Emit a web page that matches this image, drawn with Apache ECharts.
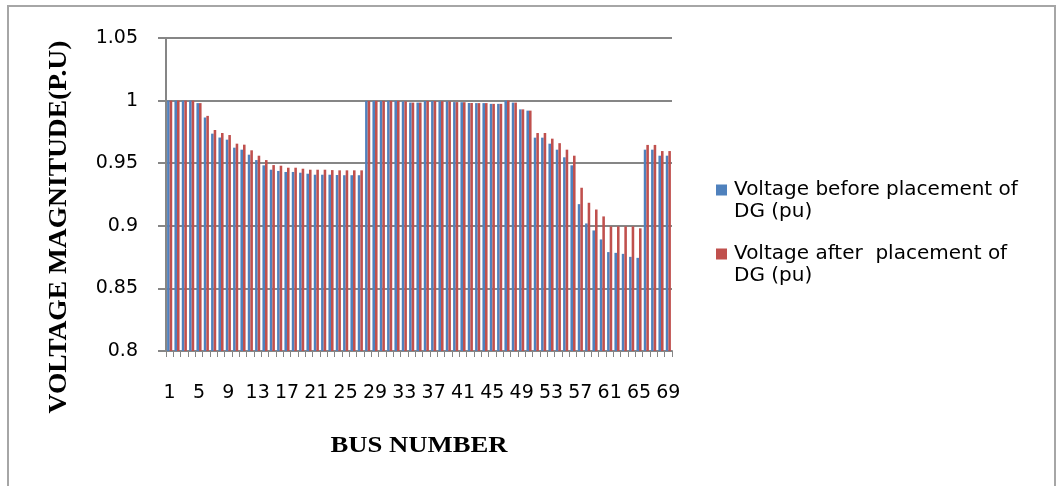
<!DOCTYPE html>
<html>
<head>
<meta charset="utf-8">
<script src="https://cdn.jsdelivr.net/npm/echarts@6/dist/echarts.min.js"></script>
<style>
  html, body { margin: 0; padding: 0; background: #fff; }
  #chart { width: 1063px; height: 486px; }
</style>
</head>
<body>
<div id="chart"></div>
<script>
// bus numbers 1..69
const buses = [];
for (let i = 1; i <= 69; i++) buses.push(String(i));

const beforeDG = [
  1.000, 1.000, 1.000, 1.000, 0.998, 0.9865, 0.9736, 0.9705, 0.9688, 0.9624,
  0.9608, 0.9568, 0.9525, 0.9483, 0.9448, 0.9438, 0.9430, 0.9430, 0.9424, 0.9416,
  0.9408, 0.9408, 0.9408, 0.9406, 0.9404, 0.9404, 0.9404,
  0.9998, 0.9998, 0.9998, 0.9998, 0.9998, 0.9994, 0.9984, 0.9984, 0.9997,
  0.9997, 0.9995, 0.9994, 0.9988, 0.9987, 0.9981, 0.9980, 0.9980, 0.9974, 0.9974,
  1.000, 0.9984, 0.9930, 0.9920, 0.9704, 0.9704, 0.9656, 0.9608, 0.9547, 0.9483,
  0.9173, 0.9019, 0.8963, 0.8891, 0.8790, 0.8784, 0.8776, 0.8752, 0.8744,
  0.9608, 0.9608, 0.9560, 0.9560
];

const afterDG = [
  1.000, 1.000, 1.000, 1.000, 0.998, 0.9878, 0.9765, 0.9741, 0.9725, 0.9656,
  0.9648, 0.9603, 0.9560, 0.9525, 0.9485, 0.9480, 0.9464, 0.9464, 0.9456, 0.9448,
  0.9448, 0.9448, 0.9445, 0.9443, 0.9443, 0.9443, 0.9443,
  0.9998, 0.9998, 0.9998, 0.9998, 0.9998, 0.9994, 0.9984, 0.9984, 0.9997,
  0.9997, 0.9995, 0.9994, 0.9988, 0.9987, 0.9981, 0.9980, 0.9980, 0.9974, 0.9974,
  1.000, 0.9984, 0.9930, 0.9920, 0.9741, 0.9741, 0.9696, 0.9660, 0.9608, 0.9560,
  0.9304, 0.9184, 0.9130, 0.9075, 0.8995, 0.8995, 0.8995, 0.8995, 0.8980,
  0.9646, 0.9646, 0.9597, 0.9597
];

const seriesNames = [
  'Voltage before placement of DG (pu)',
  'Voltage after  placement of DG (pu)'
];

const yTitle = 'VOLTAGE MAGNITUDE(P.U)';
const xTitle = 'BUS NUMBER';

// square sits next to the first text line, like the office legend
const legendIcon = 'path://M0,0L0.01,0L0,0.01Z M13,44L12.99,44L13,43.99Z M0,5.5L11,5.5L11,16.5L0,16.5Z';

const chart = echarts.init(document.getElementById('chart'));

const option = {
  animation: false,
  backgroundColor: '#fff',
  graphic: [
    {
      type: 'rect',
      shape: { x: 8, y: 6, width: 1047, height: 500 },
      style: { fill: 'none', stroke: '#a6a6a6', lineWidth: 2 },
      silent: true
    },
    {
      type: 'text',
      x: 60, y: 227,
      rotation: Math.PI / 2,
      scaleX: 1.1,
      style: { text: yTitle, font: 'bold 25px "Liberation Serif"', fill: '#000', align: 'center', verticalAlign: 'middle' },
      silent: true
    },
    {
      type: 'text',
      x: 419, y: 446,
      scaleX: 1.16,
      style: { text: xTitle, font: 'bold 23px "Liberation Serif"', fill: '#000', align: 'center', verticalAlign: 'middle' },
      silent: true
    }
  ],
  legend: {
    orient: 'vertical',
    left: 711,
    top: 174,
    itemWidth: 13,
    itemHeight: 44,
    itemGap: 20,
    icon: legendIcon,
    data: seriesNames,
    formatter: name => name.replace(' DG', '\nDG'),
    textStyle: {
      fontFamily: 'DejaVu Sans',
      fontSize: 20,
      color: '#000',
      lineHeight: 22
    }
  },
  grid: {
    left: 166,
    right: 391,
    top: 38,
    bottom: 135
  },
  xAxis: {
    type: 'category',
    data: buses,
    axisLine: { lineStyle: { color: '#868686', width: 2 } },
    axisTick: { show: true, interval: 0, length: 6, lineStyle: { color: '#868686' } },
    axisLabel: {
      interval: 3,
      margin: 33,
      fontFamily: 'DejaVu Sans',
      fontSize: 19,
      color: '#000'
    }
  },
  yAxis: {
    type: 'value',
    min: 0.8,
    max: 1.05,
    interval: 0.05,
    axisLine: { show: true, lineStyle: { color: '#868686', width: 2 } },
    axisTick: { show: true, length: 8, lineStyle: { color: '#868686', width: 2 } },
    axisLabel: {
      margin: 28,
      fontFamily: 'DejaVu Sans',
      fontSize: 19,
      color: '#000'
    },
    splitLine: { lineStyle: { color: '#868686', width: 2 } }
  },
  series: [
    {
      name: seriesNames[0],
      type: 'bar',
      data: beforeDG,
      barGap: '0%',
      barCategoryGap: '30%',
      itemStyle: { color: '#4F81BD' }
    },
    {
      name: seriesNames[1],
      type: 'bar',
      data: afterDG,
      itemStyle: { color: '#C0504D' }
    }
  ]
};

chart.setOption(option);
</script>
</body>
</html>
